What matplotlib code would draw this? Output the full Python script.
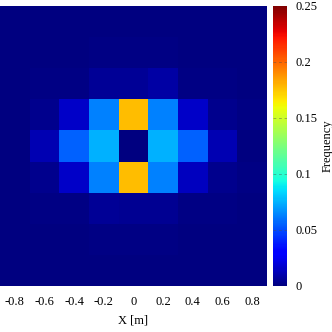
import matplotlib.pyplot as plt
import numpy as np

plt.rcParams["font.family"] = ["Liberation Serif", "DejaVu Serif"]
plt.rcParams["font.size"] = 9

# Bin centres [m]
x_centres = [-0.8, -0.6, -0.4, -0.2, 0.0, 0.2, 0.4, 0.6, 0.8]
y_centres = [0.8, 0.6, 0.4, 0.2, 0.0, -0.2, -0.4, -0.6, -0.8]

# Frequency per bin, rows from top to bottom
freq = [
    [0.000, 0.000, 0.000, 0.000, 0.000, 0.000, 0.000, 0.000, 0.000],
    [0.000, 0.000, 0.000, 0.001, 0.001, 0.001, 0.000, 0.000, 0.000],
    [0.000, 0.001, 0.001, 0.0055, 0.0055, 0.008, 0.001, 0.001, 0.000],
    [0.000, 0.003, 0.0165, 0.0625, 0.177, 0.0625, 0.0165, 0.003, 0.001],
    [0.000, 0.011, 0.055, 0.075, 0.000, 0.075, 0.055, 0.011, 0.000],
    [0.000, 0.003, 0.0165, 0.0625, 0.177, 0.0625, 0.014, 0.003, 0.001],
    [0.000, 0.001, 0.001, 0.0055, 0.0044, 0.0044, 0.001, 0.001, 0.000],
    [0.000, 0.000, 0.000, 0.001, 0.001, 0.001, 0.000, 0.000, 0.000],
    [0.000, 0.000, 0.000, 0.000, 0.000, 0.000, 0.000, 0.000, 0.000],
]

xt = [-0.8, -0.6, -0.4, -0.2, 0, 0.2, 0.4, 0.6, 0.8]
xt_labels = ["-0.8", "-0.6", "-0.4", "-0.2", "0", "0.2", "0.4", "0.6", "0.8"]
cb_ticks = [0, 0.05, 0.1, 0.15, 0.2, 0.25]
cb_labels = ["0", "0.05", "0.1", "0.15", "0.2", "0.25"]


def edges(c):
    c = np.asarray(c, dtype=float)
    step = c[1] - c[0]
    return np.concatenate([c - step / 2, [c[-1] + step / 2]])


fig = plt.figure(figsize=(3.32, 3.32), dpi=100)
ax = fig.add_axes([0.0, 0.1386, 0.804, 0.8434])
cax = fig.add_axes([0.822, 0.1386, 0.042, 0.8434])

mesh = ax.pcolormesh(edges(x_centres), edges(y_centres), np.array(freq),
                     cmap="jet", vmin=0, vmax=0.25, shading="flat")
ax.set_xlim(-0.9, 0.9)
ax.set_ylim(-0.9, 0.9)
ax.set_xticks(xt)
ax.set_xticklabels(xt_labels)
ax.set_yticks([])
ax.tick_params(axis="x", length=0, pad=7)
for s in ax.spines.values():
    s.set_visible(False)
ax.set_xlabel("X [m]", labelpad=5)

cb = fig.colorbar(mesh, cax=cax)
cb.set_ticks(cb_ticks)
cb.set_ticklabels(cb_labels)
cb.ax.tick_params(length=0, pad=6)
cb.outline.set_visible(False)
for t in cb_ticks[1:-1]:
    cax.axhline(t, color="0.3", lw=0.5, ls=(0, (4, 4)), alpha=0.6)
cb.set_label("Frequency", labelpad=3)

fig.savefig("out.png", dpi=100)
